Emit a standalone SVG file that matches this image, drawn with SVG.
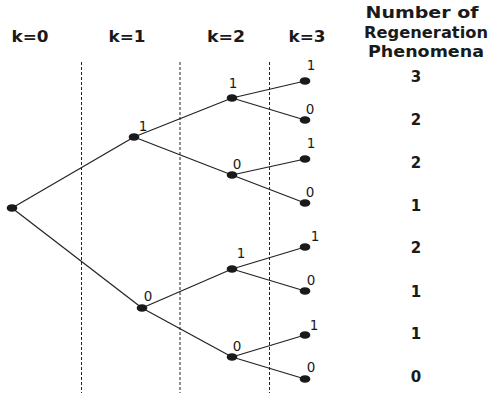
<svg xmlns="http://www.w3.org/2000/svg" width="495" height="396" viewBox="0 0 495 396">
<style>
.hd{font-family:"DejaVu Sans",Verdana,sans-serif;font-weight:bold;font-size:15px;fill:#1a1a1a;text-anchor:middle}
.cnt{font-family:"DejaVu Sans",Verdana,sans-serif;font-weight:bold;font-size:15px;fill:#1a1a1a;text-anchor:middle;dominant-baseline:central}
.lb{font-family:"DejaVu Sans",Verdana,sans-serif;font-size:13.5px;fill:#1a1a1a;text-anchor:middle;dominant-baseline:central}
.dash{stroke:#222;stroke-width:1;stroke-dasharray:3 2;fill:none}
.edge{stroke:#222;stroke-width:1.2;fill:none}
.nd{fill:#1a1a1a}
</style>
<rect width="495" height="396" fill="#fff"/>
<g id="headers">
<text class="hd" x="30" y="42" textLength="37" lengthAdjust="spacingAndGlyphs">k=0</text>
<text class="hd" x="127" y="42" textLength="37" lengthAdjust="spacingAndGlyphs">k=1</text>
<text class="hd" x="226" y="42" textLength="38" lengthAdjust="spacingAndGlyphs">k=2</text>
<text class="hd" x="307" y="42" textLength="37" lengthAdjust="spacingAndGlyphs">k=3</text>
<text class="hd" x="422" y="18" textLength="113" lengthAdjust="spacingAndGlyphs">Number of</text>
<text class="hd" x="426" y="38" textLength="124" lengthAdjust="spacingAndGlyphs">Regeneration</text>
<text class="hd" x="426" y="57" textLength="116" lengthAdjust="spacingAndGlyphs">Phenomena</text>
</g>
<g id="dividers">
<line class="dash" x1="81.5" y1="62" x2="81.5" y2="393"/>
<line class="dash" x1="180" y1="62" x2="180" y2="393"/>
<line class="dash" x1="269.5" y1="62" x2="269.5" y2="393"/>
</g>
<g id="connectors">
<line class="edge" x1="12" y1="208" x2="134" y2="137"/>
<line class="edge" x1="12" y1="208" x2="142" y2="308"/>
<line class="edge" x1="134" y1="137" x2="232" y2="98"/>
<line class="edge" x1="134" y1="137" x2="232" y2="175"/>
<line class="edge" x1="142" y1="308" x2="232" y2="269"/>
<line class="edge" x1="142" y1="308" x2="232" y2="357"/>
<line class="edge" x1="232" y1="98" x2="305" y2="81"/>
<line class="edge" x1="232" y1="98" x2="305" y2="120"/>
<line class="edge" x1="232" y1="175" x2="305" y2="159"/>
<line class="edge" x1="232" y1="175" x2="305" y2="203"/>
<line class="edge" x1="232" y1="269" x2="305" y2="247"/>
<line class="edge" x1="232" y1="269" x2="305" y2="291"/>
<line class="edge" x1="232" y1="357" x2="305" y2="335"/>
<line class="edge" x1="232" y1="357" x2="305" y2="379"/>
</g>
<g id="n0"><ellipse class="nd" cx="12" cy="208" rx="5.3" ry="3.8"/></g>
<g id="n1"><ellipse class="nd" cx="134" cy="137" rx="5.3" ry="3.8"/><text class="lb" x="143" y="126">1</text></g>
<g id="n2"><ellipse class="nd" cx="142" cy="308" rx="5.3" ry="3.8"/><text class="lb" x="148" y="296">0</text></g>
<g id="n3"><ellipse class="nd" cx="232" cy="98" rx="5.3" ry="3.8"/><text class="lb" x="233" y="83">1</text></g>
<g id="n4"><ellipse class="nd" cx="232" cy="175" rx="5.3" ry="3.8"/><text class="lb" x="237" y="164">0</text></g>
<g id="n5"><ellipse class="nd" cx="232" cy="269" rx="5.3" ry="3.8"/><text class="lb" x="241" y="253">1</text></g>
<g id="n6"><ellipse class="nd" cx="232" cy="357" rx="5.3" ry="3.8"/><text class="lb" x="237" y="346">0</text></g>
<g id="n7"><ellipse class="nd" cx="305" cy="81" rx="5.3" ry="3.8"/><text class="lb" x="311" y="65">1</text></g>
<g id="n8"><ellipse class="nd" cx="305" cy="120" rx="5.3" ry="3.8"/><text class="lb" x="310" y="109">0</text></g>
<g id="n9"><ellipse class="nd" cx="305" cy="159" rx="5.3" ry="3.8"/><text class="lb" x="311" y="143">1</text></g>
<g id="n10"><ellipse class="nd" cx="305" cy="203" rx="5.3" ry="3.8"/><text class="lb" x="310" y="192">0</text></g>
<g id="n11"><ellipse class="nd" cx="305" cy="247" rx="5.3" ry="3.8"/><text class="lb" x="315" y="236">1</text></g>
<g id="n12"><ellipse class="nd" cx="305" cy="291" rx="5.3" ry="3.8"/><text class="lb" x="311" y="280">0</text></g>
<g id="n13"><ellipse class="nd" cx="305" cy="335" rx="5.3" ry="3.8"/><text class="lb" x="314" y="325">1</text></g>
<g id="n14"><ellipse class="nd" cx="305" cy="379" rx="5.3" ry="3.8"/><text class="lb" x="311" y="367">0</text></g>
<g id="counts">
<text class="cnt" x="416" y="77">3</text>
<text class="cnt" x="416" y="120">2</text>
<text class="cnt" x="416" y="163">2</text>
<text class="cnt" x="416" y="206">1</text>
<text class="cnt" x="416" y="248">2</text>
<text class="cnt" x="416" y="292">1</text>
<text class="cnt" x="416" y="334">1</text>
<text class="cnt" x="416" y="377">0</text>
</g>
</svg>
